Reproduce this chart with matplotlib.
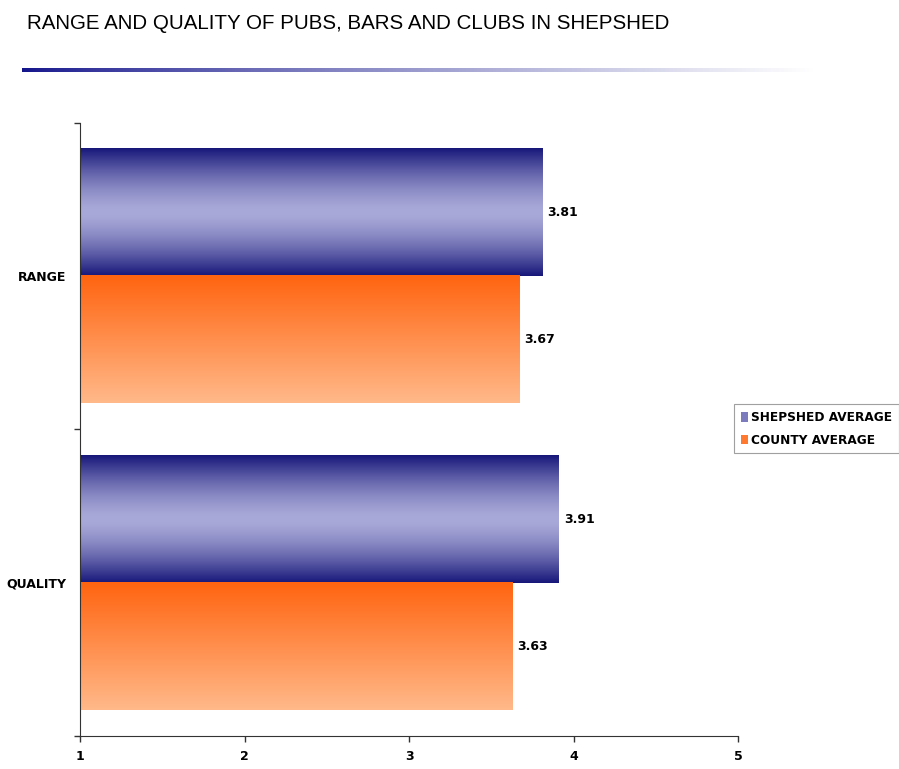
import numpy as np
import matplotlib.pyplot as plt
from matplotlib.patches import Patch

categories = ["QUALITY", "RANGE"]
shepshed = [3.91, 3.81]
county = [3.63, 3.67]
series_names = ["SHEPSHED AVERAGE", "COUNTY AVERAGE"]
x_ticks = [1, 2, 3, 4, 5]

TITLE = "RANGE AND QUALITY OF PUBS, BARS AND CLUBS IN SHEPSHED"


def hex_rgb(h):
    h = h.lstrip("#")
    return np.array([int(h[i:i + 2], 16) for i in (0, 2, 4)]) / 255.0


def blue_gradient(n=200):
    # dark navy at the edges, pale lavender in the middle
    t = np.abs(np.linspace(-1, 1, n)) ** 1.5
    dark, light = hex_rgb("#17177a"), hex_rgb("#a9a9d9")
    col = light[None, :] * (1 - t[:, None]) + dark[None, :] * t[:, None]
    return col[:, None, :]


def orange_gradient(n=200):
    # row 0 is the bottom of the bar (origin lower)
    t = np.linspace(0, 1, n)
    top, bottom = hex_rgb("#ff6410"), hex_rgb("#ffb98a")
    col = bottom[None, :] * (1 - t[:, None]) + top[None, :] * t[:, None]
    return col[:, None, :]


def paint(ax, bars, grad):
    for b in bars:
        x0, y0 = b.get_x(), b.get_y()
        w, h = b.get_width(), b.get_height()
        ax.imshow(grad, extent=[x0, x0 + w, y0, y0 + h], origin="lower",
                  aspect="auto", interpolation="bilinear", zorder=2)


fig = plt.figure(figsize=(8.99, 7.69), dpi=100)
ax = fig.add_axes([0.089, 0.043, 0.732, 0.797])

centers = np.arange(len(categories)) + 0.5
h = 0.415
left = x_ticks[0]

blue_bars = ax.barh(centers, np.array(shepshed) - left, left=left, height=h,
                    align="edge", color="none", zorder=1)
orange_bars = ax.barh(centers - h, np.array(county) - left, left=left, height=h,
                      align="edge", color="none", zorder=1)
paint(ax, blue_bars, blue_gradient())
paint(ax, orange_bars, orange_gradient())

# value labels
for y, v in zip(centers + h / 2, shepshed):
    ax.text(v + 0.03, y, f"{v:.2f}", va="center", ha="left",
            fontsize=9, fontweight="bold")
for y, v in zip(centers - h / 2, county):
    ax.text(v + 0.03, y, f"{v:.2f}", va="center", ha="left",
            fontsize=9, fontweight="bold")

ax.set_xlim(x_ticks[0], x_ticks[-1])
ax.set_ylim(0, len(categories))
ax.set_xticks(x_ticks)
ax.set_xticklabels([str(t) for t in x_ticks], fontsize=9, fontweight="bold")
ax.set_yticks(np.arange(len(categories) + 1))
ax.set_yticklabels([])
ax.set_yticks(centers, minor=True)
ax.set_yticklabels(categories, minor=True, fontsize=9, fontweight="bold")
ax.tick_params(axis="y", which="minor", length=0, pad=10)
ax.tick_params(axis="both", which="major", length=4, width=1, color="#333333")
ax.tick_params(axis="x", pad=6)
for s in ["top", "right"]:
    ax.spines[s].set_visible(False)
for s in ["left", "bottom"]:
    ax.spines[s].set_color("#333333")

# legend
handles = [Patch(facecolor="#7b7bbd", edgecolor="none"),
           Patch(facecolor="#ff7a30", edgecolor="none")]
leg = fig.legend(handles, series_names, loc="upper left",
                 bbox_to_anchor=(0.817, 0.474), fancybox=False,
                 edgecolor="#888888", handlelength=0.6, handleheight=0.8,
                 handletextpad=0.25, borderpad=0.55, labelspacing=0.8,
                 borderaxespad=0, prop={"size": 8.7, "weight": "bold"})
leg.get_frame().set_linewidth(0.8)

# title and decorative rule
fig.text(0.030, 0.970, TITLE, ha="left", va="center", fontsize=14.8,
         family=["Liberation Sans", "DejaVu Sans"])
rule = fig.add_axes([0.024, 0.906, 0.88, 0.006])
fade = np.linspace(0, 1, 400) ** 0.8
navy = hex_rgb("#14148c")
strip = navy[None, :] * (1 - fade[:, None]) + np.ones(3)[None, :] * fade[:, None]
rule.imshow(strip[None, :, :], aspect="auto", interpolation="bilinear")
rule.axis("off")

fig.savefig("out.png", dpi=100)
plt.close(fig)
